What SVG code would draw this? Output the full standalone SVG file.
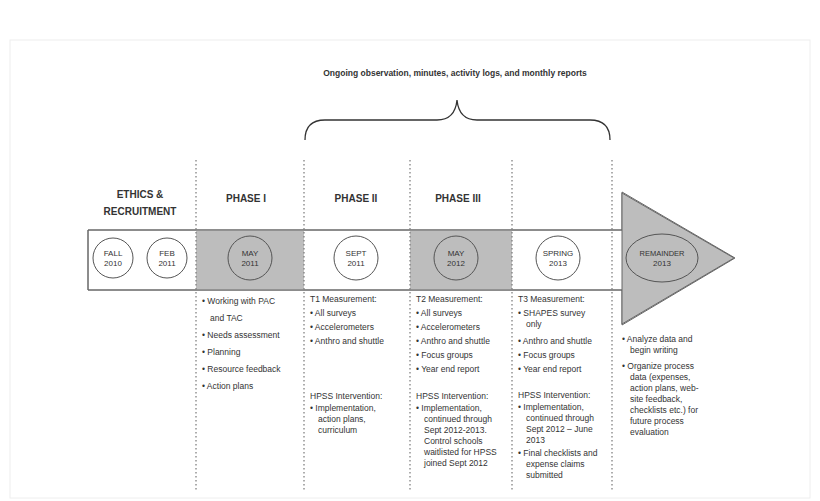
<svg xmlns="http://www.w3.org/2000/svg" width="820" height="501" viewBox="0 0 820 501">
<style>
text{font-family:"Liberation Sans",Arial,sans-serif;fill:#333}
.h{font-size:10px;font-weight:bold;text-anchor:middle}
.t{font-size:8.5px}
.c{font-size:8px;text-anchor:middle}
.dot{stroke:#777;stroke-width:1.2;stroke-dasharray:1.5,2.5;fill:none}
.cir{fill:#fff;stroke:#555;stroke-width:1}
.cg{fill:#bdbdbd;stroke:#555;stroke-width:1}
</style>
<rect width="820" height="501" fill="#fff"/>
<rect x="10" y="40" width="800" height="458" fill="none" stroke="#eee"/>
<text x="455" y="76" style="font-size:8.5px;font-weight:bold;text-anchor:middle">Ongoing observation, minutes, activity logs, and monthly reports</text>
<g id="connectors">
<path d="M305,140 Q305,120 325,120 L437,120 Q455,120 457,100 Q459,120 477,120 L590,120 Q610,120 610,140" fill="none" stroke="#333" stroke-width="1.3"/>
<path d="M88,230 L622,230 L622,192 L735,258 L622,325 L622,290 L88,290 Z" fill="#fff" stroke="#666"/>
<rect x="196" y="230" width="108" height="60" fill="#bdbdbd"/>
<rect x="410" y="230" width="102" height="60" fill="#bdbdbd"/>
<path d="M622,193 L734,258 L622,324 Z" fill="#bdbdbd" stroke="#666"/>
<line x1="88" y1="230" x2="622" y2="230" stroke="#666"/>
<line x1="88" y1="290" x2="622" y2="290" stroke="#666"/>
<line x1="88" y1="230" x2="88" y2="290" stroke="#666"/>
<line class="dot" x1="196" y1="160" x2="196" y2="492"/>
<line class="dot" x1="304" y1="160" x2="304" y2="492"/>
<line class="dot" x1="410" y1="160" x2="410" y2="492"/>
<line class="dot" x1="512" y1="160" x2="512" y2="492"/>
<line class="dot" x1="612" y1="160" x2="612" y2="492"/>
</g>
<g id="labels">
<text class="h" x="140" y="198">ETHICS &amp;</text>
<text class="h" x="140" y="215">RECRUITMENT</text>
<text class="h" x="246" y="202">PHASE I</text>
<text class="h" x="356" y="202">PHASE II</text>
<text class="h" x="458" y="202">PHASE III</text>
</g>
<g id="n1"><circle class="cir" cx="113" cy="258" r="20"/><text class="c" x="113" y="256">FALL</text><text class="c" x="113" y="266">2010</text></g>
<g id="n2"><circle class="cir" cx="167" cy="258" r="20"/><text class="c" x="167" y="256">FEB</text><text class="c" x="167" y="266">2011</text></g>
<g id="n3"><circle class="cg" cx="250" cy="258" r="22"/><text class="c" x="250" y="256">MAY</text><text class="c" x="250" y="266">2011</text></g>
<g id="n4"><circle class="cir" cx="356" cy="258" r="22"/><text class="c" x="356" y="256">SEPT</text><text class="c" x="356" y="266">2011</text></g>
<g id="n5"><circle class="cg" cx="456" cy="258" r="22"/><text class="c" x="456" y="256">MAY</text><text class="c" x="456" y="266">2012</text></g>
<g id="n6"><circle class="cir" cx="558" cy="258" r="22"/><text class="c" x="558" y="256">SPRING</text><text class="c" x="558" y="266">2013</text></g>
<g id="n7"><ellipse class="cg" cx="662" cy="258" rx="36" ry="24"/><text class="c" x="662" y="256" style="font-size:7.5px">REMAINDER</text><text class="c" x="662" y="266">2013</text></g>
<g id="col1" class="t">
<text class="t" x="202" y="304">• Working with PAC</text>
<text class="t" x="210" y="321">and TAC</text>
<text class="t" x="202" y="338">• Needs assessment</text>
<text class="t" x="202" y="355">• Planning</text>
<text class="t" x="202" y="372">• Resource feedback</text>
<text class="t" x="202" y="389">• Action plans</text>
</g>
<g id="col2">
<text class="t" x="310" y="302">T1 Measurement:</text>
<text class="t" x="310" y="316">• All surveys</text>
<text class="t" x="310" y="330">• Accelerometers</text>
<text class="t" x="310" y="344">• Anthro and shuttle</text>
<text class="t" x="310" y="399">HPSS Intervention:</text>
<text class="t" x="310" y="411">• Implementation,</text>
<text class="t" x="318" y="422">action plans,</text>
<text class="t" x="318" y="433">curriculum</text>
</g>
<g id="col3">
<text class="t" x="416" y="302">T2 Measurement:</text>
<text class="t" x="416" y="316">• All surveys</text>
<text class="t" x="416" y="330">• Accelerometers</text>
<text class="t" x="416" y="344">• Anthro and shuttle</text>
<text class="t" x="416" y="358">• Focus groups</text>
<text class="t" x="416" y="372">• Year end report</text>
<text class="t" x="416" y="399">HPSS Intervention:</text>
<text class="t" x="416" y="411">• Implementation,</text>
<text class="t" x="424" y="422">continued through</text>
<text class="t" x="424" y="433">Sept 2012-2013.</text>
<text class="t" x="424" y="444">Control schools</text>
<text class="t" x="424" y="455">waitlisted for HPSS</text>
<text class="t" x="424" y="466">joined Sept 2012</text>
</g>
<g id="col4">
<text class="t" x="518" y="302">T3 Measurement:</text>
<text class="t" x="518" y="316">• SHAPES survey</text>
<text class="t" x="526" y="327">only</text>
<text class="t" x="518" y="344">• Anthro and shuttle</text>
<text class="t" x="518" y="358">• Focus groups</text>
<text class="t" x="518" y="372">• Year end report</text>
<text class="t" x="518" y="398">HPSS Intervention:</text>
<text class="t" x="518" y="410">• Implementation,</text>
<text class="t" x="526" y="421">continued through</text>
<text class="t" x="526" y="432">Sept 2012 – June</text>
<text class="t" x="526" y="443">2013</text>
<text class="t" x="518" y="456">• Final checklists and</text>
<text class="t" x="526" y="467">expense claims</text>
<text class="t" x="526" y="478">submitted</text>
</g>
<g id="col5">
<text class="t" x="622" y="342">• Analyze data and</text>
<text class="t" x="630" y="353">begin writing</text>
<text class="t" x="622" y="369">• Organize process</text>
<text class="t" x="630" y="380">data (expenses,</text>
<text class="t" x="630" y="391">action plans, web-</text>
<text class="t" x="630" y="402">site feedback,</text>
<text class="t" x="630" y="413">checklists etc.) for</text>
<text class="t" x="630" y="424">future process</text>
<text class="t" x="630" y="435">evaluation</text>
</g>
</svg>
